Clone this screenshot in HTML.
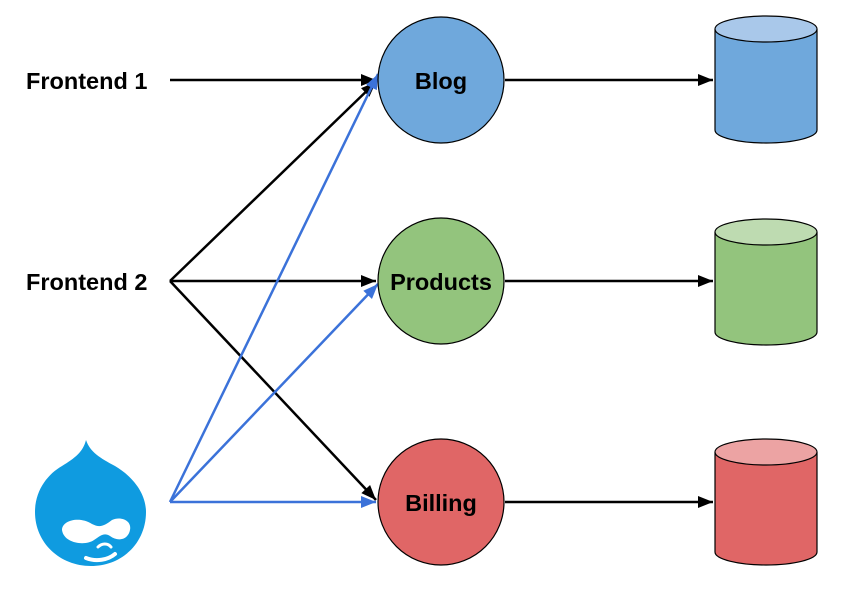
<!DOCTYPE html>
<html><head><style>body{margin:0;background:#fff}</style></head><body>
<svg width="846" height="588" viewBox="0 0 846 588" xmlns="http://www.w3.org/2000/svg" font-family="Liberation Sans, sans-serif">
<defs>
<marker id="a" viewBox="0 0 10 8" markerWidth="16" markerHeight="12" refX="10" refY="4" orient="auto" markerUnits="userSpaceOnUse"><path d="M0,0L10,4L0,8z" fill="#000"/></marker>
<marker id="b" viewBox="0 0 10 8" markerWidth="16" markerHeight="12" refX="10" refY="4" orient="auto" markerUnits="userSpaceOnUse"><path d="M0,0L10,4L0,8z" fill="#3b72d9"/></marker>
</defs>
<g stroke="#000" stroke-width="2.5" fill="none" marker-end="url(#a)">
<line x1="170" y1="80" x2="376" y2="80"/>
<line x1="170" y1="281" x2="376" y2="82"/>
<line x1="170" y1="281" x2="376" y2="281"/>
<line x1="170" y1="281" x2="376" y2="500"/>
<line x1="505" y1="80" x2="713" y2="80"/>
<line x1="505" y1="281" x2="713" y2="281"/>
<line x1="505" y1="502" x2="713" y2="502"/>
</g>
<g stroke="#3b72d9" stroke-width="2.5" fill="none" marker-end="url(#b)">
<line x1="170" y1="502" x2="378" y2="74"/>
<line x1="170" y1="502" x2="378" y2="284"/>
<line x1="170" y1="502" x2="376" y2="502"/>
</g>
<g stroke="#000" stroke-width="1.2">
<circle cx="441" cy="80" r="63" fill="#6fa8dc"/>
<circle cx="441" cy="281" r="63" fill="#93c47d"/>
<circle cx="441" cy="502" r="63" fill="#e06666"/>
</g>
<g font-weight="bold" font-size="23.5" text-anchor="middle">
<text x="441" y="89">Blog</text>
<text x="441" y="290">Products</text>
<text x="441" y="511">Billing</text>
</g>
<g font-weight="bold" font-size="23.5">
<text x="26" y="89">Frontend 1</text>
<text x="26" y="290">Frontend 2</text>
</g>
<g stroke="#000" stroke-width="1.2">
<path d="M715,29V130A51,13 0 0 0 817,130V29" fill="#6fa8dc"/><ellipse cx="766" cy="29" rx="51" ry="13" fill="#a9c8ea"/>
<path d="M715,232V332A51,13 0 0 0 817,332V232" fill="#93c47d"/><ellipse cx="766" cy="232" rx="51" ry="13" fill="#bedbb1"/>
<path d="M715,452V552A51,13 0 0 0 817,552V452" fill="#e06666"/><ellipse cx="766" cy="452" rx="51" ry="13" fill="#eca3a3"/>
</g>
<path d="M86,440C90,452 100,458 115,466C135,478 146,495 146,512C146,543 122,566 91,566C60,566 35,543 35,512C35,490 48,474 62,466C75,458 83,452 86,440Z" fill="#0f9be0"/>
<path d="M62,530C62,520 80,516 92,524C100,528 104,526 112,520C120,516 132,520 130,530C128,540 118,542 110,536C104,532 100,536 94,540C86,546 64,544 62,530Z" fill="#fff"/>
<path d="M86,558C96,562 108,560 115,554" stroke="#fff" stroke-width="4" fill="none" stroke-linecap="round"/>
<path d="M98,547C102,543 108,543 111,547" stroke="#fff" stroke-width="3" fill="none" stroke-linecap="round"/>
</svg>
</body></html>
